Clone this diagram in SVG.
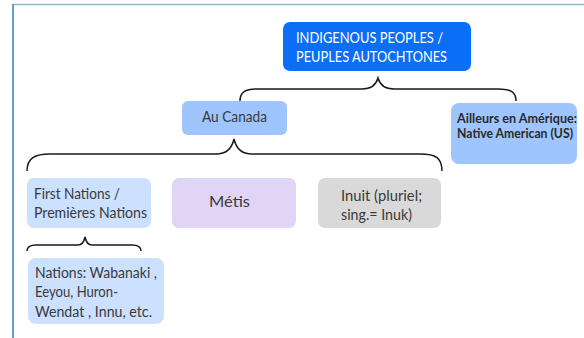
<svg xmlns="http://www.w3.org/2000/svg" width="584" height="338" viewBox="0 0 584 338">
<style>
.t{font-family:Lato,"Open Sans","Liberation Sans",sans-serif;font-size:14.5px;fill:#3a3a3a}
.w{fill:#ffffff;font-size:15px}
.b{font-weight:bold;font-size:12.5px;fill:#2a2a2a}
.brace{fill:none;stroke:#1a1a1a;stroke-width:1.5}
</style>
<rect x="0" y="0" width="584" height="338" fill="#ffffff"/>
<line x1="13" y1="4.5" x2="584" y2="4.5" stroke="#8fbad0" stroke-width="1.5"/>
<line x1="13" y1="4" x2="13" y2="338" stroke="#3b7fb3" stroke-width="1.5"/>
<g id="connectors">
<path class="brace" d="M240,101 C240,92 245,89 258,89 L362,89 C371,89 376,85 378,78 C380,85 385,89 394,89 L498,89 C511,89 516,92 516,101"/>
<path class="brace" d="M27,171 C27,158 35,154 50,154 L216,154 C227,154 232,148 234,139 C236,148 241,154 252,154 L420,154 C436,154 442,158 442,171"/>
<path class="brace" d="M27,251 C27,247 30,245 36,245 L78,245 C82,245 84,242 85,237 C86,242 88,245 92,245 L132,245 C138,245 141,247 141,251"/>
</g>
<g id="node-root">
<rect x="283" y="22" width="188" height="49" rx="7" fill="#0a6ef7"/>
<text class="t w" x="296" y="43" textLength="147" lengthAdjust="spacingAndGlyphs">INDIGENOUS PEOPLES /</text>
<text class="t w" x="296" y="62" textLength="151" lengthAdjust="spacingAndGlyphs">PEUPLES AUTOCHTONES</text>
</g>
<g id="node-canada">
<rect x="182" y="101" width="105" height="34" rx="6" fill="#9ec5fe"/>
<text class="t" x="234.5" y="122" text-anchor="middle" textLength="65" lengthAdjust="spacingAndGlyphs">Au Canada</text>
</g>
<g id="node-ailleurs">
<rect x="451" y="103" width="126" height="61" rx="8" fill="#9ec5fe"/>
<text class="t b" x="457" y="123" textLength="120" lengthAdjust="spacingAndGlyphs">Ailleurs en Amérique:</text>
<text class="t b" x="457" y="138" textLength="116" lengthAdjust="spacingAndGlyphs">Native American (US)</text>
</g>
<g id="node-first-nations">
<rect x="27" y="178" width="124" height="50" rx="7" fill="#cce0ff"/>
<text class="t" x="34" y="199" textLength="86" lengthAdjust="spacingAndGlyphs">First Nations /</text>
<text class="t" x="34" y="218" textLength="113" lengthAdjust="spacingAndGlyphs">Premières Nations</text>
</g>
<g id="node-metis">
<rect x="172" y="178" width="124" height="50" rx="7" fill="#e1d5f5"/>
<text class="t" x="209" y="207" textLength="41" lengthAdjust="spacingAndGlyphs">Métis</text>
</g>
<g id="node-inuit">
<rect x="318" y="178" width="123" height="50" rx="7" fill="#d9d9d9"/>
<text class="t" x="341" y="201" textLength="81" lengthAdjust="spacingAndGlyphs">Inuit (pluriel;</text>
<text class="t" x="341" y="220" textLength="71" lengthAdjust="spacingAndGlyphs">sing.= Inuk)</text>
</g>
<g id="node-nations">
<rect x="28" y="258" width="136" height="66" rx="8" fill="#cce0ff"/>
<text class="t" x="35" y="278" textLength="122" lengthAdjust="spacingAndGlyphs">Nations: Wabanaki ,</text>
<text class="t" x="35" y="297" textLength="83" lengthAdjust="spacingAndGlyphs">Eeyou, Huron-</text>
<text class="t" x="35" y="317" textLength="117" lengthAdjust="spacingAndGlyphs">Wendat , Innu, etc.</text>
</g>
</svg>
